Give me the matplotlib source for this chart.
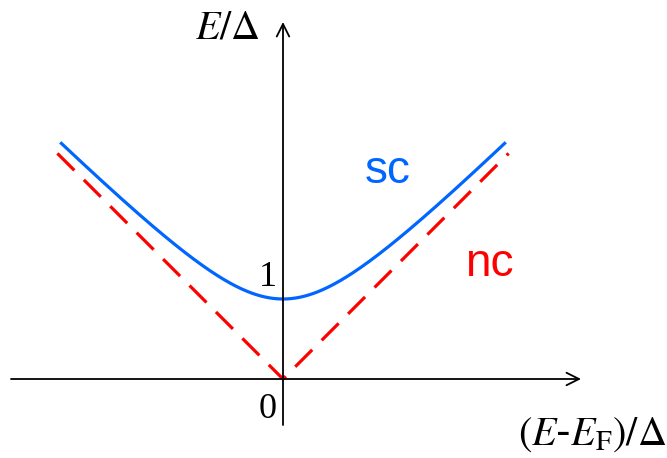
import matplotlib
import matplotlib.pyplot as plt
import numpy as np

matplotlib.use("Agg")

plt.rcParams["mathtext.fontset"] = "stix"

# quasiparticle dispersion, energies in units of the gap
gap = 1.0
k_sc = np.linspace(-2.77, 2.77, 400)
e_sc = np.sqrt(k_sc**2 + gap**2)
k_nc = np.array([-2.82, 0.0, 2.82])
e_nc = np.abs(k_nc)

BLUE = "#0066ff"
RED = "#ff0000"

PX = 80.0  # pixels per unit
X0, Y0 = 283.0, 379.0  # origin in pixel coords


def px(x, y):
    return (x - X0) / PX, (Y0 - y) / PX


fig = plt.figure(figsize=(6.67, 4.58), dpi=100)
ax = fig.add_axes([0, 0, 1, 1])
ax.set_xlim(px(0, 0)[0], px(667, 0)[0])
ax.set_ylim(px(0, 458)[1], px(0, 0)[1])
ax.axis("off")

# axes with open arrow heads
arrow = dict(arrowstyle="->,head_length=0.9,head_width=0.45", color="black",
             lw=1.3, shrinkA=0, shrinkB=0)
ax.annotate("", xy=px(581, Y0), xytext=px(11, Y0), arrowprops=arrow)
ax.annotate("", xy=px(X0, 22), xytext=px(X0, 425), arrowprops=arrow)

ax.plot(k_nc, e_nc, color=RED, lw=2.3, dashes=(7.5, 4.2), solid_capstyle="butt")
ax.plot(k_sc, e_sc, color=BLUE, lw=2.3)

serif = dict(fontfamily="Liberation Serif", color="black", ha="center", va="center")
ax.text(*px(268, 277), "1", fontsize=26, **serif)
ax.text(*px(268, 409), "0", fontsize=26, **serif)
ax.text(*px(228, 28), r"$E/\Delta$", fontsize=29, ha="center", va="center")
ax.text(*px(592, 434), r"$(E$-$E_\mathrm{F})/\Delta$", fontsize=29,
        ha="center", va="center")

ax.text(*px(388, 171), "sc", fontsize=33, color=BLUE, ha="center", va="center",
        fontfamily="Liberation Sans")
ax.text(*px(489, 264), "nc", fontsize=33, color=RED, ha="center", va="center",
        fontfamily="Liberation Sans")

fig.savefig("out.png", dpi=100)
